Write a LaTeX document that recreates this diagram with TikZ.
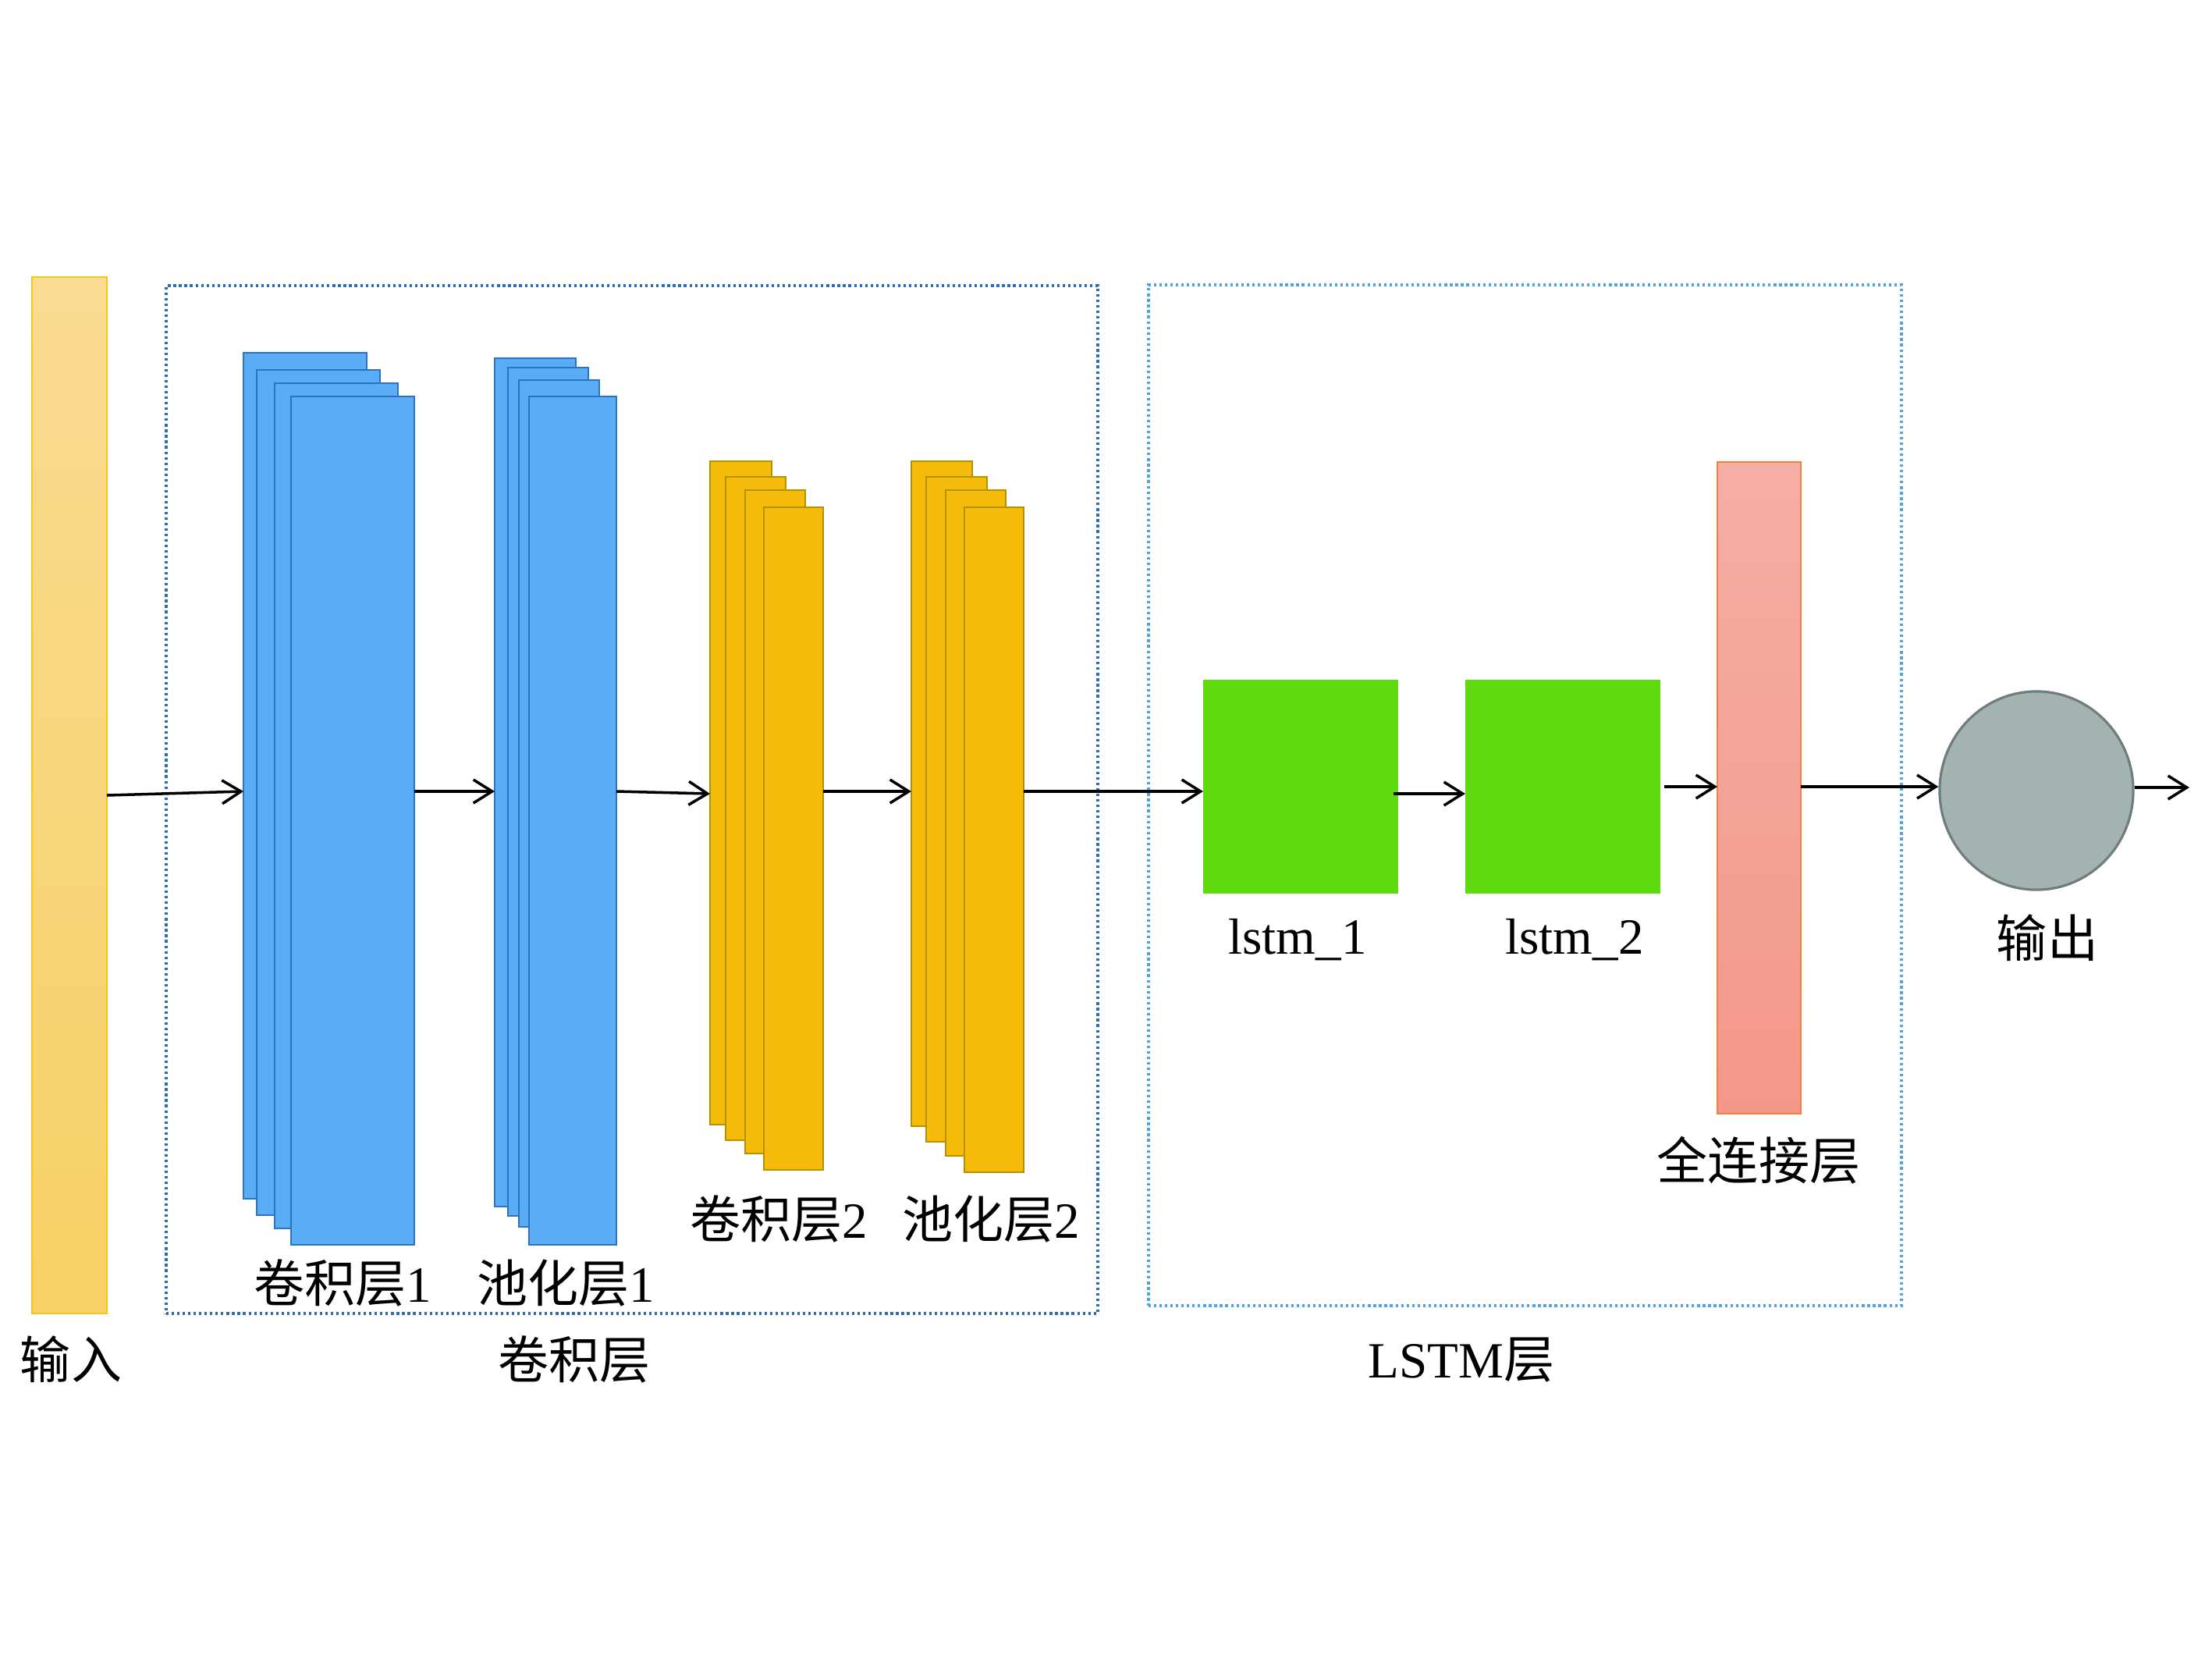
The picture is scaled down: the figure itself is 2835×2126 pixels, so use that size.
\documentclass[tikz,border=0pt]{standalone}
\usepackage{fontspec}
\setmainfont{Liberation Serif}
\newfontfamily\cjk{Noto Sans CJK SC}
\usetikzlibrary{arrows.meta,shapes.geometric,fit}
\definecolor{inTop}{HTML}{F9DB92}
\definecolor{inBot}{HTML}{F8D064}
\definecolor{inEdge}{HTML}{F5C518}
\definecolor{blueFill}{HTML}{5AACF5}
\definecolor{blueEdge}{HTML}{2E72C4}
\definecolor{yelFill}{HTML}{F6BA08}
\definecolor{yelEdge}{HTML}{B39200}
\definecolor{greenFill}{HTML}{5FDA0E}
\definecolor{fcTop}{HTML}{F5AEA5}
\definecolor{fcBot}{HTML}{F4978A}
\definecolor{fcEdge}{HTML}{EE8040}
\definecolor{outFill}{HTML}{A3B3B1}
\definecolor{outEdge}{HTML}{6F7D7B}
\definecolor{convDot}{HTML}{2E6DB5}
\definecolor{lstmDot}{HTML}{4DA3E8}
\tikzset{
  boxbase/.style={inner sep=0pt, outer sep=0pt},
  bluebox/.style={boxbase, draw=blueEdge, fill=blueFill, line width=0.8pt},
  yelbox/.style={boxbase, draw=yelEdge, fill=yelFill, line width=0.8pt},
  greenbox/.style={boxbase, fill=greenFill},
  inbox/.style={boxbase, draw=inEdge, top color=inTop, bottom color=inBot, line width=0.7pt},
  fcbox/.style={boxbase, draw=fcEdge, top color=fcTop, bottom color=fcBot, line width=0.7pt},
  groupbox/.style={boxbase, line width=0.9pt, dash pattern=on 0.9pt off 1.1pt},
  arr/.style={-{Straight Barb[length=2.4mm,width=3mm]}, line width=1pt},
  lbl/.style={inner sep=0pt, font=\fontsize{18.5}{22}\selectfont},
}
\begin{document}
\begin{tikzpicture}[x=0.01cm, y=-0.01cm]
\useasboundingbox (0,0) rectangle (2835,2126);

% group frames
\node[groupbox, draw=convDot, fit={(213,366) (1407,1683)}] (convgrp) {};
\node[groupbox, draw=lstmDot, fit={(1472,365) (2437,1673)}] (lstmgrp) {};

% input
\node[inbox, fit={(41,355) (137,1683)}] (in) {};

% conv layer 1
\node[bluebox, fit={(312,452) (470,1536)}] (c1a) {};
\node[bluebox, fit={(329,474) (487,1557)}] (c1b) {};
\node[bluebox, fit={(352,491) (510,1574)}] (c1c) {};
\node[bluebox, fit={(373,508) (531,1595)}] (c1d) {};

% pool layer 1
\node[bluebox, fit={(634,459) (738,1546)}] (p1a) {};
\node[bluebox, fit={(651,471) (754,1558)}] (p1b) {};
\node[bluebox, fit={(665,487) (768,1572)}] (p1c) {};
\node[bluebox, fit={(678,508) (790,1595)}] (p1d) {};

% conv layer 2
\node[yelbox, fit={(910,591) (989,1441)}] (c2a) {};
\node[yelbox, fit={(930,611) (1007,1461)}] (c2b) {};
\node[yelbox, fit={(955,628) (1032,1478)}] (c2c) {};
\node[yelbox, fit={(979,650) (1055,1499)}] (c2d) {};

% pool layer 2
\node[yelbox, fit={(1168,591) (1246,1443)}] (p2a) {};
\node[yelbox, fit={(1187,611) (1265,1463)}] (p2b) {};
\node[yelbox, fit={(1212,628) (1289,1481)}] (p2c) {};
\node[yelbox, fit={(1236,650) (1312,1502)}] (p2d) {};

% lstm
\node[greenbox, fit={(1542,871) (1792,1145)}] (l1) {};
\node[greenbox, fit={(1878,871) (2128,1145)}] (l2) {};

% fully connected
\node[fcbox, fit={(2201,592) (2308,1427)}] (fc) {};

% output
\node[ellipse, draw=outEdge, fill=outFill, line width=0.9pt, minimum width=2.48cm, minimum height=2.54cm, inner sep=0pt] (out) at (2610,1013) {};

% labels
\node[lbl] (tin) at (91,1742) {\cjk 输入};
\node[lbl] (tc1) at (439,1644) {{\cjk 卷积层}1};
\node[lbl] (tp1) at (725,1644) {{\cjk 池化层}1};
\node[lbl] (tc2) at (998,1562) {{\cjk 卷积层}2};
\node[lbl] (tp2) at (1270,1562) {{\cjk 池化层}2};
\node[lbl] (tconv) at (736,1742) {\cjk 卷积层};
\node[lbl] (tl1) at (1663,1204) {lstm\_1};
\node[lbl] (tl2) at (2018,1204) {lstm\_2};
\node[lbl] (tfc) at (2254,1487) {\cjk 全连接层};
\node[lbl] (tout) at (2624,1202) {\cjk 输出};
\node[lbl] (tlstm) at (1873,1743) {LSTM{\cjk 层}};

% connector levels
\coordinate (ya) at (0,1014);
\coordinate (yb) at (0,1017);
\coordinate (yc) at (0,1008);
\coordinate (oend) at (2806,1009);

\draw[arr] (in.east) -- (c1a.west |- ya);
\draw[arr] (c1d.east |- ya) -- (p1a.west |- ya);
\draw[arr] (p1d.east |- ya) -- (c2a.west |- yb);
\draw[arr] (c2d.east |- ya) -- (p2a.west |- ya);
\draw[arr] (p2d.east |- ya) -- (l1.west |- ya);
\draw[arr] ([xshift=-0.06cm]l1.east |- yb) -- (l2.west |- yb);
\draw[arr] ([xshift=0.05cm]l2.east |- yc) -- (fc.west |- yc);
\draw[arr] (fc.east |- yc) -- (out.west |- yc);
\draw[arr] (out.east |- oend) -- (oend);
\end{tikzpicture}
\end{document}
